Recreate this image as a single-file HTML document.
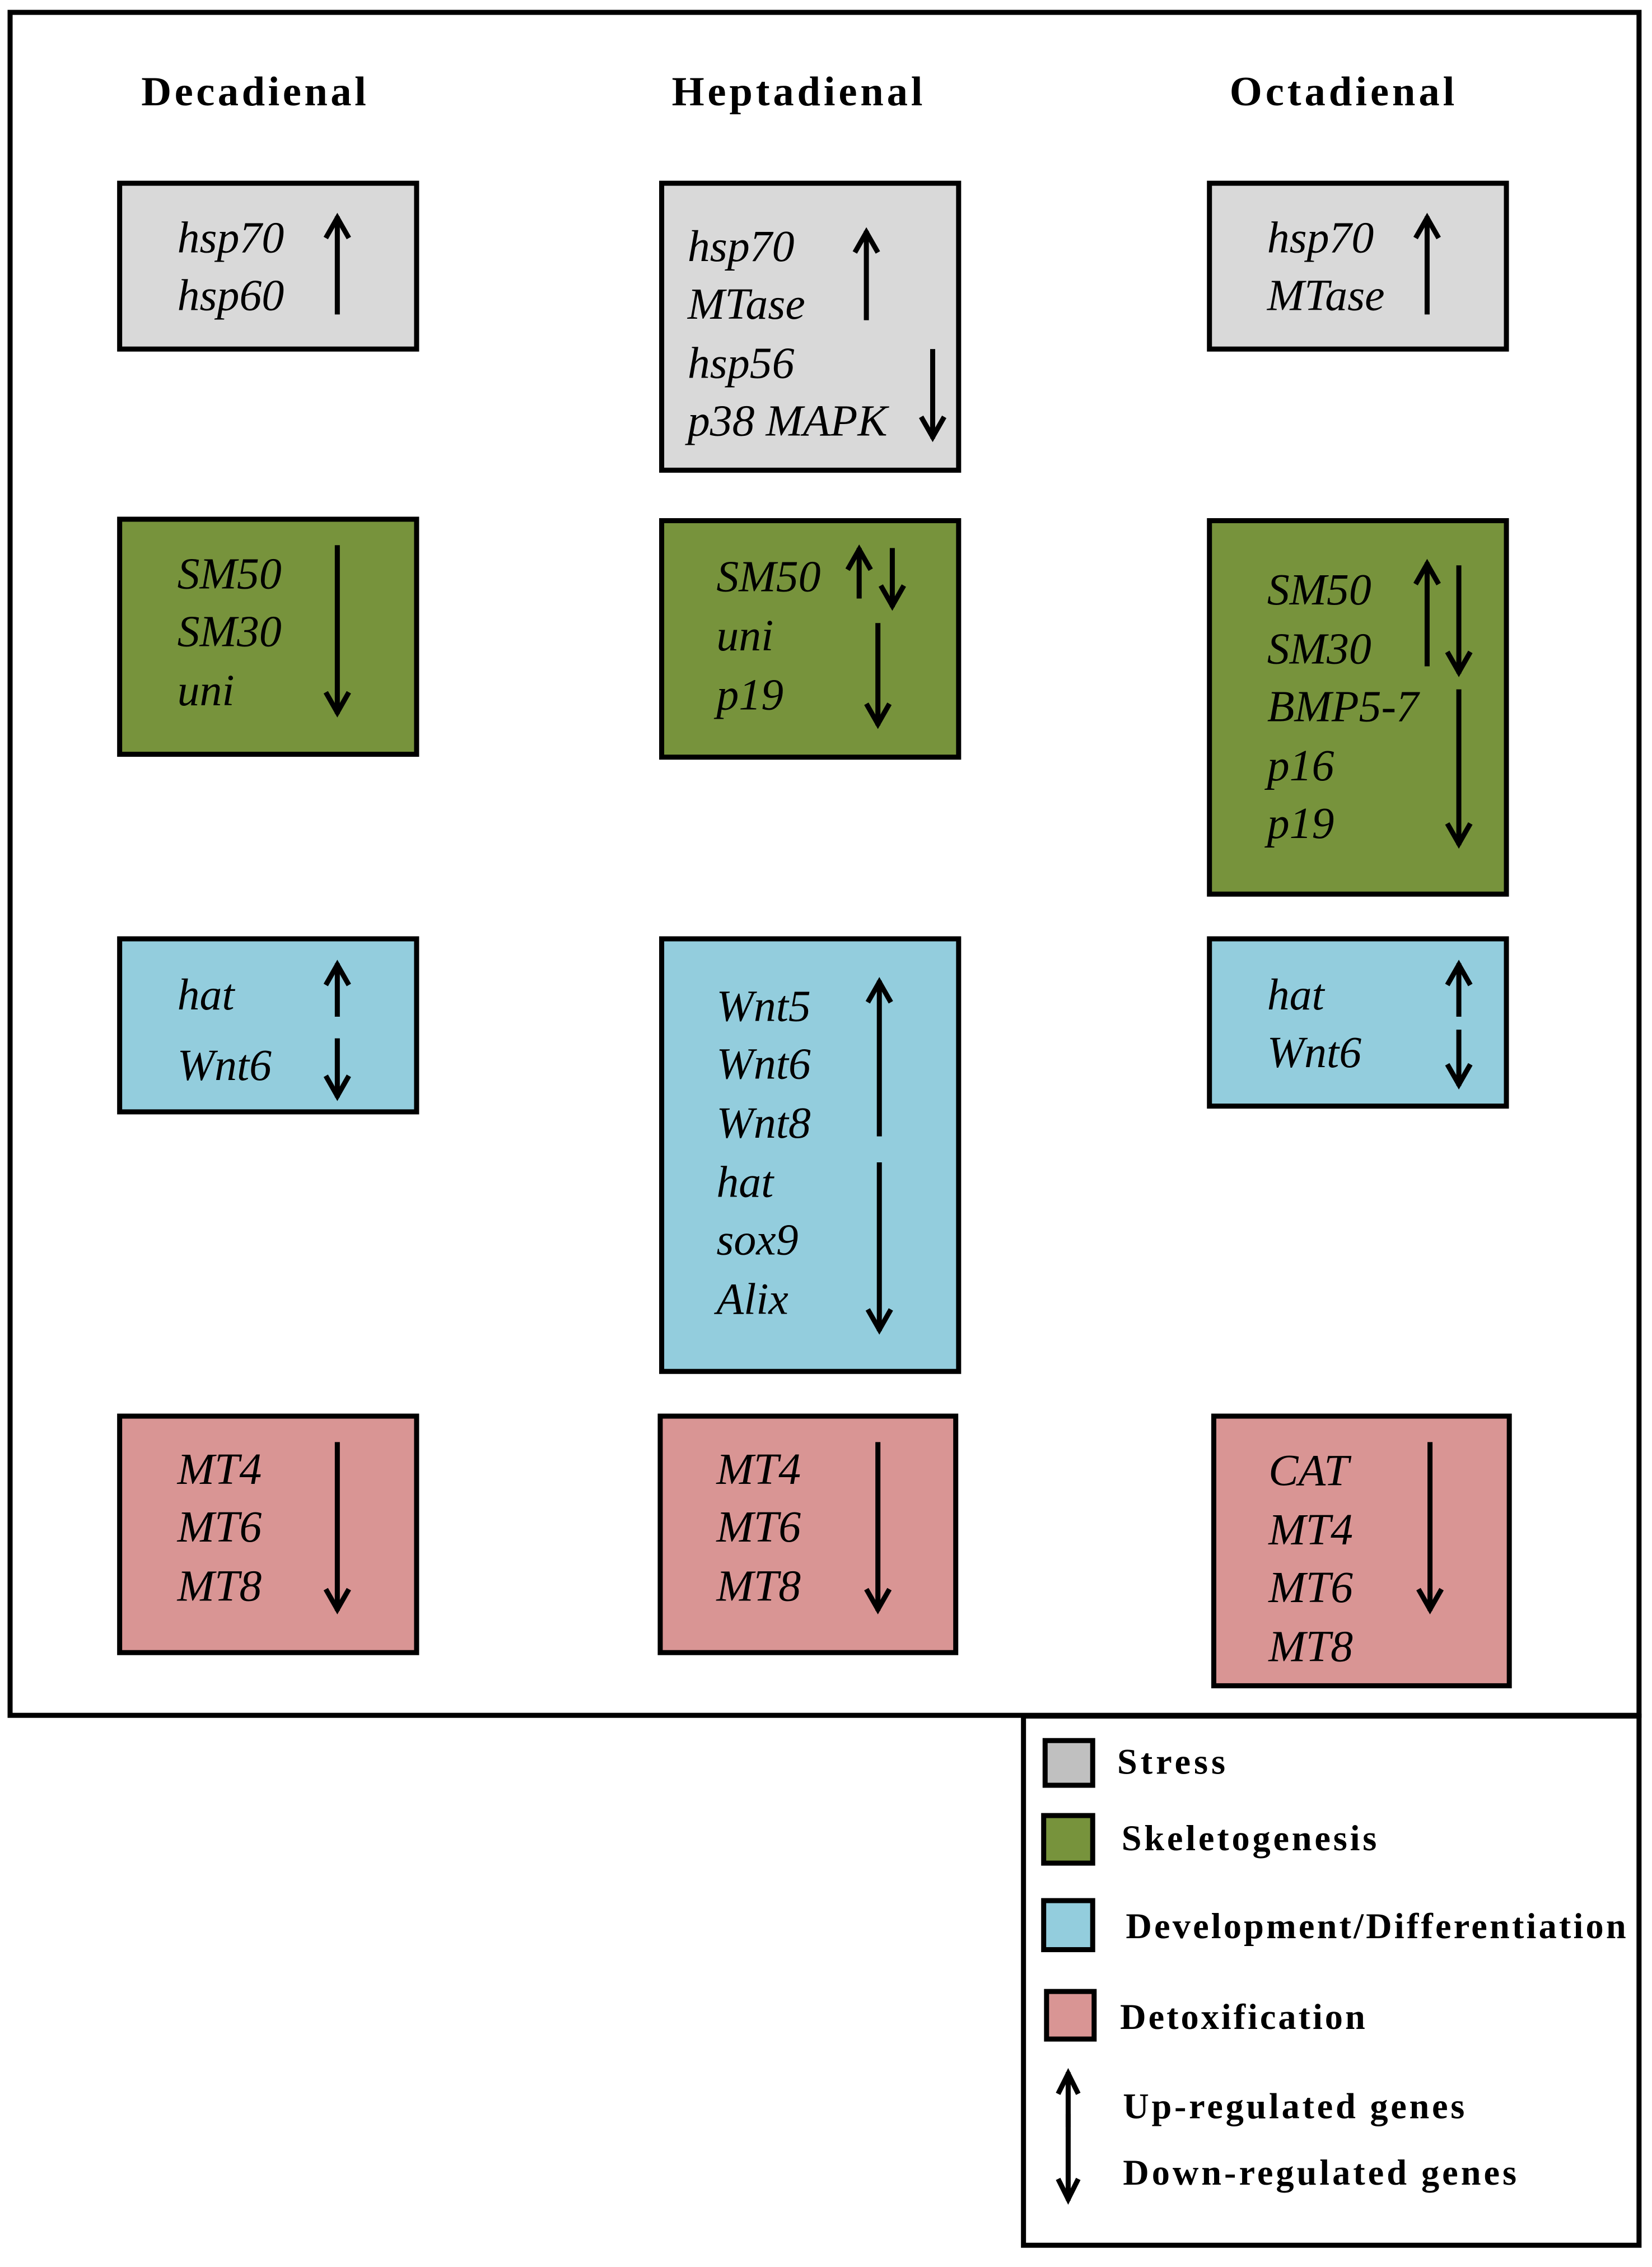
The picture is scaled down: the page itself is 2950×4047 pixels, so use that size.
<!DOCTYPE html>
<html><head><meta charset="utf-8"><style>html,body{margin:0;padding:0;background:#fff}svg{display:block}</style></head>
<body>
<svg width="2950" height="4047" viewBox="0 0 1146 1572" xmlns="http://www.w3.org/2000/svg">
<defs>
<style>
.b{stroke:#000;stroke-width:3.5}
.g{font-family:"Liberation Serif",serif;font-style:italic;font-size:31px;fill:#000}
.h{font-family:"Liberation Serif",serif;font-weight:bold;font-size:29px;fill:#000}
.l{font-family:"Liberation Serif",serif;font-weight:bold;font-size:25px;fill:#000}
.a{stroke:#000;stroke-width:3.5;fill:none;stroke-linecap:butt;stroke-linejoin:miter}
</style>
</defs>
<rect x="0" y="0" width="1146" height="1572" fill="#fff"/>
<rect x="7" y="8.5" width="1130" height="1181" fill="none" stroke="#000" stroke-width="3.5"/>
<rect x="710" y="1190" width="427" height="367" fill="none" stroke="#000" stroke-width="3.5"/>

<text class="h" x="98" y="73" textLength="156">Decadienal</text>
<text class="h" x="466" y="73" textLength="174">Heptadienal</text>
<text class="h" x="853" y="73" textLength="156">Octadienal</text>

<!-- Stress -->
<rect class="b" x="83" y="127" width="206" height="115" fill="#d9d9d9"/>
<text class="g" x="123" y="175">hsp70</text>
<text class="g" x="123" y="215">hsp60</text>
<line class="a" x1="234" y1="150" x2="234" y2="218"/><path class="a" d="M226 165 L234 151 L242 165"/>

<rect class="b" x="459" y="127" width="206" height="199" fill="#d9d9d9"/>
<text class="g" x="477" y="181">hsp70</text>
<text class="g" x="477" y="221">MTase</text>
<text class="g" x="477" y="262">hsp56</text>
<text class="g" x="477" y="302">p38 MAPK</text>
<line class="a" x1="601" y1="160" x2="601" y2="222"/><path class="a" d="M593 175 L601 161 L609 175"/>
<line class="a" x1="647" y1="242" x2="647" y2="304"/><path class="a" d="M639 289 L647 303 L655 289"/>

<rect class="b" x="839" y="127" width="206" height="115" fill="#d9d9d9"/>
<text class="g" x="879" y="175">hsp70</text>
<text class="g" x="879" y="215">MTase</text>
<line class="a" x1="990" y1="150" x2="990" y2="218"/><path class="a" d="M982 165 L990 151 L998 165"/>

<!-- Skeletogenesis -->
<rect class="b" x="83" y="360" width="206" height="163" fill="#77933c"/>
<text class="g" x="123" y="408">SM50</text>
<text class="g" x="123" y="448">SM30</text>
<text class="g" x="123" y="489">uni</text>
<line class="a" x1="234" y1="378" x2="234" y2="495"/><path class="a" d="M226 480 L234 494 L242 480"/>

<rect class="b" x="459" y="361" width="206" height="164" fill="#77933c"/>
<text class="g" x="497" y="410">SM50</text>
<text class="g" x="497" y="451">uni</text>
<text class="g" x="497" y="492">p19</text>
<line class="a" x1="596" y1="380" x2="596" y2="415"/><path class="a" d="M588 395 L596 381 L604 395"/>
<line class="a" x1="619" y1="380" x2="619" y2="421"/><path class="a" d="M611 406 L619 420 L627 406"/>
<line class="a" x1="609" y1="432" x2="609" y2="503"/><path class="a" d="M601 488 L609 502 L617 488"/>

<rect class="b" x="839" y="361" width="206" height="259" fill="#77933c"/>
<text class="g" x="879" y="419">SM50</text>
<text class="g" x="879" y="460">SM30</text>
<text class="g" x="879" y="500">BMP5-7</text>
<text class="g" x="879" y="541">p16</text>
<text class="g" x="879" y="581">p19</text>
<line class="a" x1="990" y1="390" x2="990" y2="462"/><path class="a" d="M982 405 L990 391 L998 405"/>
<line class="a" x1="1012" y1="392" x2="1012" y2="467"/><path class="a" d="M1004 452 L1012 466 L1020 452"/>
<line class="a" x1="1012" y1="478" x2="1012" y2="586"/><path class="a" d="M1004 571 L1012 585 L1020 571"/>

<!-- Development -->
<rect class="b" x="83" y="651" width="206" height="120" fill="#93cddd"/>
<text class="g" x="123" y="700">hat</text>
<text class="g" x="123" y="749">Wnt6</text>
<line class="a" x1="234" y1="668" x2="234" y2="705"/><path class="a" d="M226 683 L234 669 L242 683"/>
<line class="a" x1="234" y1="720" x2="234" y2="761"/><path class="a" d="M226 746 L234 760 L242 746"/>

<rect class="b" x="459" y="651" width="206" height="300" fill="#93cddd"/>
<text class="g" x="497" y="708">Wnt5</text>
<text class="g" x="497" y="748">Wnt6</text>
<text class="g" x="497" y="789">Wnt8</text>
<text class="g" x="497" y="830">hat</text>
<text class="g" x="497" y="870">sox9</text>
<text class="g" x="497" y="911">Alix</text>
<line class="a" x1="610" y1="680" x2="610" y2="788"/><path class="a" d="M602 695 L610 681 L618 695"/>
<line class="a" x1="610" y1="806" x2="610" y2="923"/><path class="a" d="M602 908 L610 922 L618 908"/>

<rect class="b" x="839" y="651" width="206" height="116" fill="#93cddd"/>
<text class="g" x="879" y="700">hat</text>
<text class="g" x="879" y="740">Wnt6</text>
<line class="a" x1="1012" y1="668" x2="1012" y2="705"/><path class="a" d="M1004 683 L1012 669 L1020 683"/>
<line class="a" x1="1012" y1="714" x2="1012" y2="753"/><path class="a" d="M1004 738 L1012 752 L1020 738"/>

<!-- Detox -->
<rect class="b" x="83" y="982" width="206" height="164" fill="#d99594"/>
<text class="g" x="123" y="1029">MT4</text>
<text class="g" x="123" y="1069">MT6</text>
<text class="g" x="123" y="1110">MT8</text>
<line class="a" x1="234" y1="1000" x2="234" y2="1117"/><path class="a" d="M226 1102 L234 1116 L242 1102"/>

<rect class="b" x="458" y="982" width="205" height="164" fill="#d99594"/>
<text class="g" x="497" y="1029">MT4</text>
<text class="g" x="497" y="1069">MT6</text>
<text class="g" x="497" y="1110">MT8</text>
<line class="a" x1="609" y1="1000" x2="609" y2="1117"/><path class="a" d="M601 1102 L609 1116 L617 1102"/>

<rect class="b" x="842" y="982" width="205" height="187" fill="#d99594"/>
<text class="g" x="880" y="1030">CAT</text>
<text class="g" x="880" y="1071">MT4</text>
<text class="g" x="880" y="1111">MT6</text>
<text class="g" x="880" y="1152">MT8</text>
<line class="a" x1="992" y1="1000" x2="992" y2="1117"/><path class="a" d="M984 1102 L992 1116 L1000 1102"/>

<!-- Legend -->
<rect class="b" x="725" y="1207" width="33" height="31" fill="#c0c0c0"/>
<text class="l" x="775" y="1230" textLength="75">Stress</text>
<rect class="b" x="724" y="1259" width="34" height="33" fill="#77933c"/>
<text class="l" x="778" y="1283" textLength="177">Skeletogenesis</text>
<rect class="b" x="724" y="1318" width="34" height="34" fill="#93cddd"/>
<text class="l" x="781" y="1344" textLength="347">Development/Differentiation</text>
<rect class="b" x="726" y="1381" width="33" height="33" fill="#d99594"/>
<text class="l" x="777" y="1407" textLength="170">Detoxification</text>
<line class="a" x1="741" y1="1437" x2="741" y2="1475"/><path class="a" d="M734 1452 L741 1438 L748 1452"/>
<text class="l" x="779" y="1469" textLength="237">Up-regulated genes</text>
<line class="a" x1="741" y1="1466" x2="741" y2="1526"/><path class="a" d="M734 1511 L741 1525 L748 1511"/>
<text class="l" x="779" y="1515" textLength="273">Down-regulated genes</text>
</svg>
</body></html>
